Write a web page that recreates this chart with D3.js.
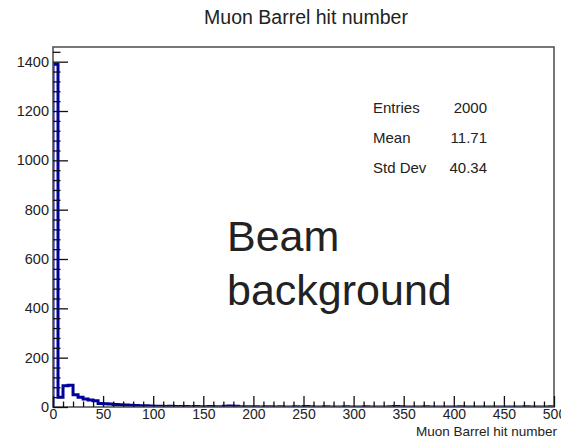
<!DOCTYPE html>
<html>
<head>
<meta charset="utf-8">
<script src="https://cdn.jsdelivr.net/npm/d3@7"></script>
<style>
  html, body { margin: 0; padding: 0; background: #fff; }
  svg { display: block; }
  text { font-family: "Liberation Sans", Arial, Helvetica, sans-serif; fill: #222; }
</style>
</head>
<body>
<svg id="chart" width="561" height="438"></svg>
<script>
// Histogram: 100 bins of width 5 over [0, 500)
const xMin = 0, xMax = 500, binWidth = 5;
const counts = [
  1390, 40, 86, 88, 50, 40, 32, 28, 25, 14,
  13, 12, 10, 9, 8, 7, 6, 5, 5, 4,
  3, 3, 2, 3, 2, 2, 2, 1, 2, 1,
  1, 2, 1, 1, 3, 4, 3, 1, 1, 1,
  1, 0, 1, 1, 0, 1, 0, 0, 1, 0,
  2, 1, 0, 0, 1, 0, 0, 0, 1, 0,
  0, 0, 1, 0, 0, 0, 0, 1, 2, 1,
  0, 0, 0, 0, 1, 0, 0, 0, 0, 0,
  0, 1, 0, 0, 0, 0, 0, 0, 0, 0,
  0, 0, 0, 0, 1, 0, 0, 0, 0, 1
];
const xTicks = [0, 50, 100, 150, 200, 250, 300, 350, 400, 450, 500];
const yTicks = [0, 200, 400, 600, 800, 1000, 1200, 1400];
const statNames = ["Entries", "Mean", "Std Dev"];
const statValues = ["2000", "11.71", "40.34"];
const title = "Muon Barrel hit number";
const xTitle = "Muon Barrel hit number";
const note = ["Beam", "background"];

const svg = d3.select("#chart");
const frame = { left: 53, right: 554, top: 47, bottom: 407 };

const yMax = d3.max(counts) * 1.05;
const x = d3.scaleLinear().domain([xMin, xMax]).range([frame.left, frame.right]);
const y = d3.scaleLinear().domain([0, yMax]).range([frame.bottom, frame.top]);

// clip for the histogram
svg.append("defs").append("clipPath").attr("id", "plotClip")
  .append("rect")
  .attr("x", frame.left).attr("y", frame.top)
  .attr("width", frame.right - frame.left).attr("height", frame.bottom - frame.top);

// step outline of the histogram
const pts = [[xMin, 0]];
counts.forEach((c, i) => {
  pts.push([xMin + i * binWidth, c]);
  pts.push([xMin + (i + 1) * binWidth, c]);
});
pts.push([xMax, 0]);
const line = d3.line().x(d => x(d[0])).y(d => y(d[1]));
svg.append("path")
  .attr("d", line(pts))
  .attr("fill", "none")
  .attr("stroke", "#00009a")
  .attr("stroke-width", 3)
  .attr("stroke-linejoin", "miter")
  .attr("clip-path", "url(#plotClip)");

// frame
svg.append("rect")
  .attr("x", frame.left).attr("y", frame.top)
  .attr("width", frame.right - frame.left).attr("height", frame.bottom - frame.top)
  .attr("fill", "none").attr("stroke", "#555").attr("stroke-width", 1.6);

// x axis ticks (drawn inward)
const xMinor = d3.range(xMin, xMax + 0.001, 10).filter(v => v % 50 !== 0);
const xAxis = svg.append("g").attr("transform", `translate(0,${frame.bottom})`)
  .call(d3.axisBottom(x).tickValues(xTicks).tickSize(-11).tickPadding(2).tickFormat(d3.format("d")));
xAxis.select(".domain").remove();
xAxis.selectAll("line").attr("stroke", "#111").attr("stroke-width", 1.3);
xAxis.selectAll("text").attr("font-size", 14).attr("fill", "#222")
  .attr("font-family", "'Liberation Sans', Arial, sans-serif");
const xAxisMinor = svg.append("g").attr("transform", `translate(0,${frame.bottom})`)
  .call(d3.axisBottom(x).tickValues(xMinor).tickSize(-5.5).tickFormat(""));
xAxisMinor.select(".domain").remove();
xAxisMinor.selectAll("line").attr("stroke", "#111").attr("stroke-width", 1.3);

// y axis ticks (drawn inward)
const yMinor = d3.range(0, yMax, 40).filter(v => v % 200 !== 0);
const yAxis = svg.append("g").attr("transform", `translate(${frame.left},0)`)
  .call(d3.axisLeft(y).tickValues(yTicks).tickSize(-15).tickPadding(4).tickFormat(d3.format("d")));
yAxis.select(".domain").remove();
yAxis.selectAll("line").attr("stroke", "#111").attr("stroke-width", 1.3);
yAxis.selectAll("text").attr("font-size", 14.5).attr("fill", "#222")
  .attr("font-family", "'Liberation Sans', Arial, sans-serif");
const yAxisMinor = svg.append("g").attr("transform", `translate(${frame.left},0)`)
  .call(d3.axisLeft(y).tickValues(yMinor).tickSize(-7.5).tickFormat(""));
yAxisMinor.select(".domain").remove();
yAxisMinor.selectAll("line").attr("stroke", "#111").attr("stroke-width", 1.3);

// titles
svg.append("text").attr("x", 306).attr("y", 24)
  .attr("text-anchor", "middle").attr("font-size", 19.5).text(title);
svg.append("text").attr("x", 557).attr("y", 435.5)
  .attr("text-anchor", "end").attr("font-size", 13.5).text(xTitle);

// statistics box
statNames.forEach((n, i) => {
  svg.append("text").attr("x", 373).attr("y", 113 + i * 30)
    .attr("font-size", 15).text(n);
  svg.append("text").attr("x", 487).attr("y", 113 + i * 30)
    .attr("text-anchor", "end").attr("font-size", 15).text(statValues[i]);
});

// annotation
note.forEach((t, i) => {
  svg.append("text").attr("x", 227).attr("y", 251 + i * 54)
    .attr("font-family", "Lato, 'Open Sans', sans-serif")
    .attr("font-size", 43).attr("fill", "#000").text(t);
});
</script>
</body>
</html>
